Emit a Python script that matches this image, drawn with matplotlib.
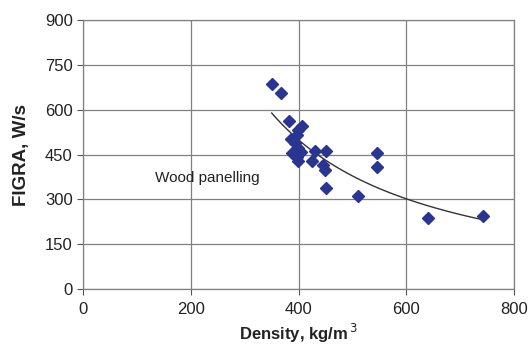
import numpy as np
import matplotlib
matplotlib.use("Agg")
import matplotlib.pyplot as plt

plt.rcParams['font.family'] = ['Liberation Sans', 'DejaVu Sans']

# densidad (kg/m3) y FIGRA (W/s) de los paneles de madera
densidad = [350, 368, 382, 406, 399, 397, 386, 393, 399, 388, 397, 399, 404,
            430, 451, 425, 445, 449, 451, 510, 545, 545, 640, 742]
figra = [686, 655, 562, 545, 532, 515, 502, 488, 472, 455, 441, 428, 458,
         463, 462, 428, 415, 398, 338, 313, 455, 408, 237, 244]

# curva de tendencia (potencia) y = a * x^b
a_tend = 589 * 350 ** 1.24
b_tend = -1.24
x_tend = np.linspace(350, 742, 100)
y_tend = a_tend * x_tend ** b_tend

fig = plt.figure(figsize=(5.3, 3.47), dpi=100)
ax = fig.add_axes([0.157, 0.167, 0.813, 0.775])

ax.plot(x_tend, y_tend, color='#333333', lw=1.0, zorder=2)
ax.plot(densidad, figra, 'D', color='#2a3592', ms=6.5, mec='#2a3592', zorder=3)

ax.text(134, 371, 'Wood panelling', fontsize=11, va='center', ha='left', color='#222222')

ax.set_xlim(0, 800)
ax.set_ylim(0, 900)
ax.set_xticks([0, 200, 400, 600, 800])
ax.set_yticks([0, 150, 300, 450, 600, 750, 900])
ax.grid(True, color='#808080', lw=0.9)
ax.set_axisbelow(True)
for s in ax.spines.values():
    s.set_color('#808080')
    s.set_linewidth(0.9)
ax.tick_params(labelsize=12, length=4, color='#555555', direction='out',
               labelcolor='#222222')
ax.tick_params(axis='x', pad=5)

ax.set_xlabel('Density, kg/m$^{\\,3}$', fontsize=12, fontweight='bold', labelpad=4,
              color='#222222')
ax.set_ylabel('FIGRA, W/s', fontsize=13.5, fontweight='bold', labelpad=11,
              color='#222222')

plt.savefig('out.png', dpi=100)
